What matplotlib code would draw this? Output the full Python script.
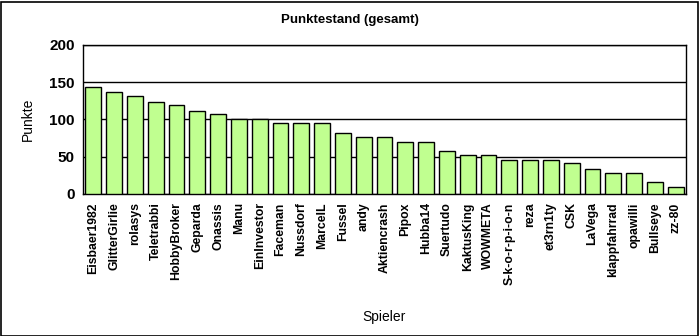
import matplotlib
matplotlib.use('Agg')
import matplotlib.pyplot as plt
from matplotlib.patches import Rectangle

plt.rcParams['font.family'] = ['Liberation Sans', 'DejaVu Sans']

spieler = ['Eisbaer1982', 'GlitterGirlie', 'rolasys', 'Teletrabbi', 'HobbyBroker',
           'Geparda', 'Onassis', 'Manu', 'EinInvestor', 'Faceman', 'Nussdorf',
           'MarcelL', 'Fussel', 'andy', 'Aktiencrash', 'Pipox', 'Hubba14',
           'Suertudo', 'KaktusKing', 'WOWMETA', 'S-k-o-r-p-i-o-n', 'reza',
           'et3rn1ty', 'CSK', 'LaVega', 'klappfahrrad', 'opawilli', 'Bullseye',
           'zz-80']
punkte = [143, 137, 131, 124, 119, 112, 107, 100, 100, 95, 95, 95, 82, 77, 77,
          70, 70, 58, 53, 53, 46, 46, 46, 41, 34, 28, 28, 16, 10]
yticks = [0, 50, 100, 150, 200]

fig = plt.figure(figsize=(6.99, 3.36), dpi=100)
ax = fig.add_axes([83/699, 1 - 194/336, (686-83)/699, (194-45)/336])

x = range(len(spieler))
ax.bar(x, punkte, width=0.76, color='#C0FF90', edgecolor='black', linewidth=1, zorder=3)
ax.set_xlim(-0.5, len(spieler) - 0.5)
ax.set_ylim(0, 200)
ax.set_yticks(yticks)
ax.set_yticklabels([str(v) for v in yticks], fontsize=11, fontweight='bold')
ax.set_xticks(list(x))
ax.set_xticklabels(spieler, rotation=90, fontsize=8.8, fontweight='bold')
ax.tick_params(length=0, pad=6)
ax.yaxis.grid(True, color='black', linewidth=1, zorder=0)
for s in ax.spines.values():
    s.set_linewidth(1)

ax.set_ylabel('Punkte', fontsize=10, labelpad=10)
fig.text(384/699, 1 - 317/336, 'Spieler', ha='center', va='center', fontsize=10)
fig.text(0.5, 1 - 20/336, 'Punktestand (gesamt)', ha='center', va='center',
         fontsize=9.5, fontweight='bold')

fig.patches.append(Rectangle((0.5/699, 0.5/336), 697/699, 334/336, transform=fig.transFigure,
                             fill=False, edgecolor='black', linewidth=1.2))

fig.savefig('out.png', dpi=100)
